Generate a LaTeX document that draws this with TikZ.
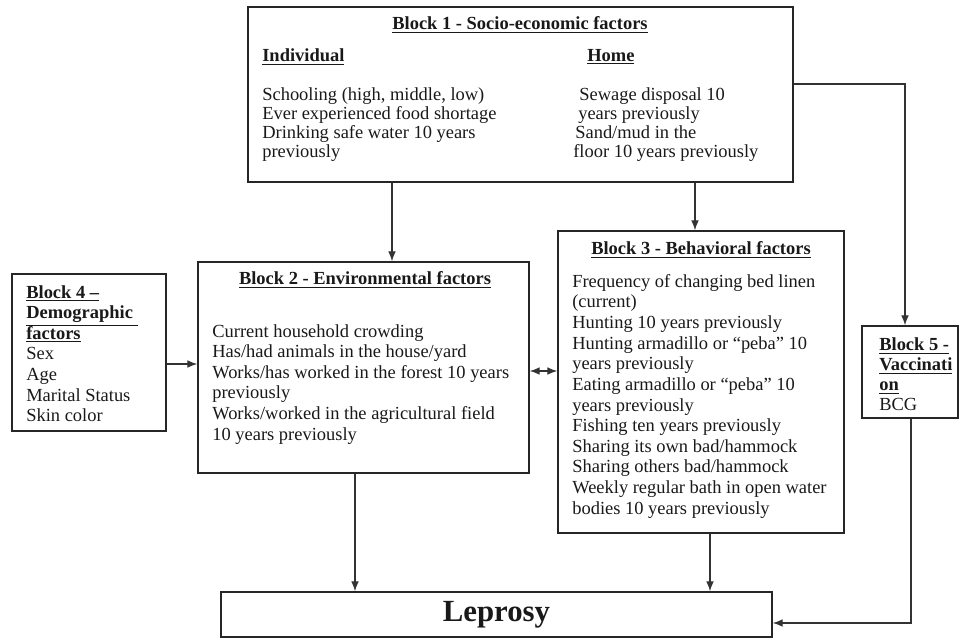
\documentclass[tikz,border=0pt]{standalone}
\usepackage{fontspec}
\setmainfont{Liberation Serif}
\usetikzlibrary{arrows.meta,fit}
\begin{document}
\begin{tikzpicture}[x=0.65pt,y=-0.65pt,
  box/.style={draw=black!85,line width=0.9pt,inner sep=0pt},
  txt/.style={anchor=north west,inner sep=0pt,align=left,text=black!90},
  body/.style={font=\fontsize{12}{13.4}\selectfont},
  ttl/.style={inner sep=0pt,text=black!90,font=\fontsize{12}{13.4}\selectfont\bfseries},
  tip/.style={Latex[length=6.5pt,width=5pt]},
  arr/.style={draw=black!80,line width=0.8pt,-{Latex[length=6.5pt,width=5pt]}},
  darr/.style={draw=black!80,line width=0.8pt,{Latex[length=6.5pt,width=5pt]}-{Latex[length=6.5pt,width=5pt]}},
  ]
\useasboundingbox (0,0) rectangle (959,638);
% boxes
\node[box,fit={(248,7) (793,182)}] (b1) {};
\node[box,fit={(198,262) (529,473)}] (b2) {};
\node[box,fit={(558,231) (844,533)}] (b3) {};
\node[box,fit={(12,274) (166,431)}] (b4) {};
\node[box,fit={(862,326) (958,418)}] (b5) {};
\node[box,fit={(221,592) (772,637)}] (lep) {};
\node[inner sep=0pt,font=\fontsize{20}{24}\selectfont\bfseries,text=black!90] (leptxt) at (lep.center) {Leprosy};
% Block 1 text
\node[ttl] (t1) at (520,25) {\underline{Block 1 - Socio-economic factors}};
\node[ttl,anchor=west] (ind) at (262,57) {\underline{Individual}};
\node[ttl,anchor=west] (home) at (587,57) {\underline{Home}};
\node[txt,font=\fontsize{12}{12.4}\selectfont] (l1) at (262,87) {Schooling (high, middle, low)\\Ever experienced food shortage\\Drinking safe water 10 years\\previously};
\node[txt,font=\fontsize{12}{12.4}\selectfont] (r1) at (573,87) {\hspace*{3.9pt}Sewage disposal 10\\\hspace*{3.25pt}years previously\\\hspace*{1.3pt}Sand/mud in the\\floor 10 years previously};
% Block 2 text
\node[ttl] (t2) at (365,280) {\underline{Block 2 - Environmental factors}};
\node[txt,body] (l2) at (212,324) {Current household crowding\\Has/had animals in the house/yard\\Works/has worked in the forest 10 years\\previously\\Works/worked in the agricultural field\\10 years previously};
% Block 3 text
\node[ttl] (t3) at (701,250) {\underline{Block 3 - Behavioral factors}};
\node[txt,body] (l3) at (572,274) {Frequency of changing bed linen\\(current)\\Hunting 10 years previously\\Hunting armadillo or “peba” 10\\years previously\\Eating armadillo or “peba” 10\\years previously\\Fishing ten years previously\\Sharing its own bad/hammock\\Sharing others bad/hammock\\Weekly regular bath in open water\\bodies 10 years previously};
% Block 4 text
\node[txt,body] (t4) at (26,285) {\textbf{\underline{Block 4 –}}\\\textbf{\underline{Demographic\ }}\\\textbf{\underline{factors}}\\Sex\\Age\\Marital Status\\Skin color};
% Block 5 text
\node[txt,font=\fontsize{12}{13}\selectfont] (t5) at (879,337.5) {\textbf{\underline{Block 5 -}}\\\textbf{\underline{Vaccinati}}\\\textbf{\underline{on}}\\BCG};
% connector coordinates
\coordinate (x12) at (392,0);
\coordinate (x13) at (695,0);
\coordinate (y15) at (0,84);
\coordinate (x15) at (905,0);
\coordinate (y42) at (0,364);
\coordinate (y23) at (0,371);
\coordinate (x2l) at (355,0);
\coordinate (x3l) at (710,0);
\coordinate (x5l) at (911,0);
\coordinate (y5l) at (0,623);
% connectors
\draw[arr] (b1.south -| x12) -- (b2.north -| x12);
\draw[arr] (b1.south -| x13) -- (b3.north -| x13);
\draw[arr] (b1.east |- y15) -| (b5.north -| x15);
\draw[arr] (b4.east |- y42) -- (b2.west |- y42);
\draw[darr] (b2.east |- y23) -- (b3.west |- y23);
\draw[arr] (b2.south -| x2l) -- (lep.north -| x2l);
\draw[arr] (b3.south -| x3l) -- (lep.north -| x3l);
\draw[arr] (b5.south -| x5l) |- (lep.east |- y5l);
\end{tikzpicture}
\end{document}
